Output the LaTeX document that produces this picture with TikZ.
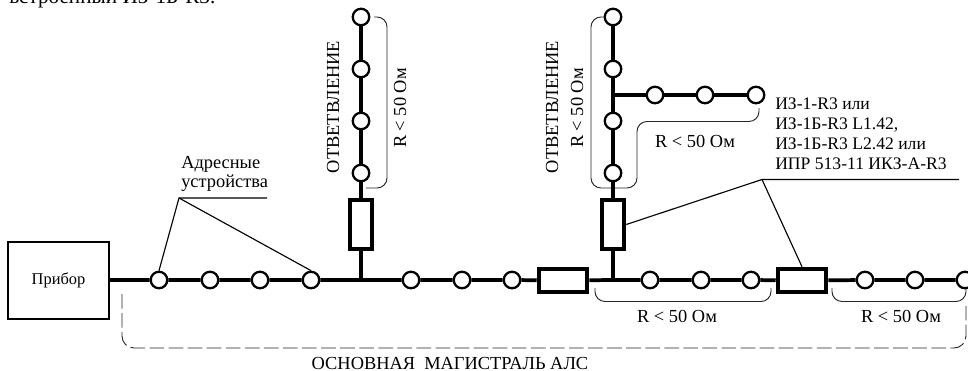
\documentclass[tikz,border=0pt]{standalone}
\usepackage{fontspec}
\setmainfont{Liberation Serif}
\usetikzlibrary{backgrounds}
\tikzset{
  px/.style={x=0.75pt,y=-0.75pt},
  device/.style={circle,draw=black,fill=white,line width=1.7pt,minimum size=16.5*0.75pt,inner sep=0pt},
  isoh/.style={rectangle,draw=black,fill=white,line width=3.4pt,minimum width=48*0.75pt,minimum height=23*0.75pt,inner sep=0pt},
  isov/.style={rectangle,draw=black,fill=white,line width=3.4pt,minimum width=22*0.75pt,minimum height=49*0.75pt,inner sep=0pt},
  panel/.style={rectangle,draw=black,fill=white,line width=1.3pt,minimum width=101*0.75pt,minimum height=77*0.75pt,inner sep=0pt,font=\fontsize{12.3pt}{14pt}\selectfont},
  wire/.style={line width=2.8pt,draw=black},
  leader/.style={line width=0.85pt,draw=black},
  brace/.style={line width=0.7pt,draw=black!85,rounded corners=7.5pt},
  lbl/.style={inner sep=0pt,font=\fontsize{13.8pt}{16pt}\selectfont},
  toplbl/.style={inner sep=0pt,font=\fontsize{15.9pt}{18pt}\selectfont},
  smalllbl/.style={inner sep=0pt,font=\fontsize{13.2pt}{15pt}\selectfont,align=left},
}
\begin{document}
\begin{tikzpicture}[px]
\useasboundingbox (0,0) rectangle (968,371);
% top text
\node[toplbl,anchor=base west] (toptext) at (9,3) {встроенный ИЗ-1Б-R3.};
% main line nodes
\node[panel] (pribor) at (58.5,280.5) {Прибор};
\foreach \n/\x in {m1/159,m2/210,m3/260,m4/311,m5/411,m6/462,m7/512,m8/650,m9/701,m10/751,m11/865,m12/915,m13/965}
  \node[device] (\n) at (\x,280) {};
\node[isoh] (b1) at (563,280.5) {};
\node[isoh] (b2) at (802,280.5) {};
\coordinate (j1) at (361,280);
\coordinate (j2) at (613,280);
% branch nodes
\node[isov] (b3) at (361,224.5) {};
\foreach \n/\y in {a1/17,a2/69,a3/121,a4/173}
  \node[device] (\n) at (361,\y) {};
\node[isov] (b4) at (613,224.5) {};
\foreach \n/\y in {c1/17,c2/69,c3/121,c4/173}
  \node[device] (\n) at (613,\y) {};
\coordinate (j3) at (613,95);
\foreach \n/\x in {d1/655,d2/705,d3/756}
  \node[device] (\n) at (\x,95) {};
% labels
\node[lbl,anchor=base west] (addr1) at (181,168) {Адресные};
\node[lbl,anchor=base west] (addr2) at (181,187.5) {устройства};
\node[smalllbl,anchor=base west] (devs) at (775,169) {ИЗ-1-R3 или\\ИЗ-1Б-R3 L1.42,\\ИЗ-1Б-R3 L2.42 или\\ИПР 513-11 ИКЗ-А-R3};
\node[lbl,rotate=90] (otv1) at (333,107) {ОТВЕТВЛЕНИЕ};
\node[lbl,rotate=90] (otv2) at (552,107) {ОТВЕТВЛЕНИЕ};
\node[lbl,rotate=90] (r1) at (400,108) {R < 50\ Ом};
\node[lbl,rotate=90] (r2) at (577,108) {R < 50\ Ом};
\node[lbl] (r3) at (695,141) {R < 50\ Ом};
\node[lbl] (r4) at (677,316) {R < 50\ Ом};
\node[lbl] (r5) at (901,316) {R < 50\ Ом};
\node[lbl,anchor=base] (title) at (450,369) {ОСНОВНАЯ\ \ МАГИСТРАЛЬ АЛС};
% leaders
\coordinate (addrhub) at (179,198);
\coordinate (addrend) at (267,198);
\draw[leader] (addrend) -- (addrhub) -- (m1.north);
\draw[leader] (addrhub) -- (m4.north);
\coordinate (devhub) at (762,179.5);
\coordinate (devend) at (959,179.5);
\draw[leader] (devend) -- (devhub) -- (b4.east);
\draw[leader] (devhub) -- (b2.north);
\begin{pgfonlayer}{background}
% braces
\coordinate (s1a) at (374,17);
\coordinate (s1b) at (387,17);
\coordinate (s1c) at (387,188);
\coordinate (s1d) at (366,188);
\draw[brace] (s1a) -- (s1b) -- (s1c) -- (s1d);
\coordinate (s2a) at (604,17);
\coordinate (s2b) at (591,17);
\coordinate (s2c) at (591,188);
\coordinate (s2d) at (613,188);
\coordinate (s2e) at (637,188);
\coordinate (s2f) at (637,121.5);
\coordinate (s2g) at (759,121.5);
\coordinate (s2h) at (759,108);
\draw[brace] (s2a) -- (s2b) -- (s2c) -- (s2d) -- (s2e) -- (s2f) -- (s2g) -- (s2h);
\coordinate (s3a) at (595,288);
\coordinate (s3b) at (595,301.5);
\coordinate (s3c) at (771,301.5);
\coordinate (s3d) at (771,288);
\draw[brace] (s3a) -- (s3b) -- (s3c) -- (s3d);
\coordinate (s4a) at (832,288);
\coordinate (s4b) at (832,301.5);
\coordinate (s4c) at (966,301.5);
\coordinate (s4d) at (966,288);
\draw[brace] (s4a) -- (s4b) -- (s4c) -- (s4d);
\coordinate (s5a) at (122,294);
\coordinate (s5b) at (122,348);
\coordinate (s5c) at (966,348);
\coordinate (s5d) at (966,306);
\draw[brace,dash pattern=on 11pt off 3.3pt,rounded corners=9pt] (s5a) -- (s5b) -- (s5c) -- (s5d);
% wires
\draw[wire] (pribor.east |- m1) -- (m1) -- (m2) -- (m3) -- (m4) -- (j1) -- (m5) -- (m6) -- (m7) -- (b1) -- (j2) -- (m8) -- (m9) -- (m10) -- (b2) -- (m11) -- (m12) -- (m13);
\draw[wire] (j1) -- (b3) -- (a4) -- (a3) -- (a2) -- (a1);
\draw[wire] (j2) -- (b4) -- (c4) -- (c3) -- (c2) -- (c1);
\draw[wire] (j3) -- (d1) -- (d2) -- (d3);
\end{pgfonlayer}
\end{tikzpicture}
\end{document}
